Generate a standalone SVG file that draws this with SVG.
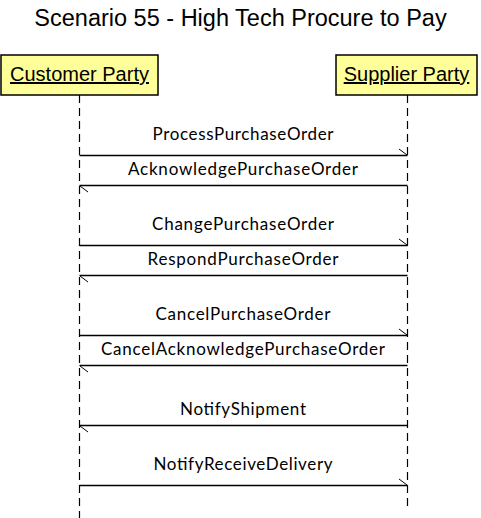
<svg xmlns="http://www.w3.org/2000/svg" width="481" height="518" viewBox="0 0 481 518">
<style>
.title{font-family:"Liberation Sans",Arial,sans-serif;font-size:23.5px;fill:#000;text-anchor:middle}
.box{fill:#ffff99;stroke:#000;stroke-width:1.5}
.party{font-family:"Liberation Sans",Arial,sans-serif;font-size:20px;fill:#000;text-anchor:middle;text-decoration:underline}
.life{stroke:#000;stroke-width:1.2;stroke-dasharray:8,5;fill:none}
.msg{stroke:#000;stroke-width:1.3;fill:none}
.barb{stroke:#000;stroke-width:1;fill:none}
.lbl{font-family:Lato,"Open Sans",sans-serif;font-size:17px;fill:#000;text-anchor:middle}
</style>
<rect width="481" height="518" fill="#fff"/>
<text class="title" x="240.5" y="26">Scenario 55 - High Tech Procure to Pay</text>
<g id="customer">
<rect class="box" x="1" y="55" width="157" height="40"/>
<text class="party" x="79.5" y="81">Customer Party</text>
<line class="life" x1="79.5" y1="95" x2="79.5" y2="518"/>
</g>
<g id="supplier">
<rect class="box" x="336" y="55" width="141" height="40"/>
<text class="party" x="406.5" y="81">Supplier Party</text>
<line class="life" x1="407.5" y1="95" x2="407.5" y2="510"/>
</g>
<g id="connectors">
<g id="m1"><line class="msg" x1="79.5" y1="155.5" x2="407.5" y2="155.5"/><line class="barb" x1="399" y1="149" x2="407" y2="155"/><text class="lbl" x="243" y="140" textLength="181">ProcessPurchaseOrder</text></g>
<g id="m2"><line class="msg" x1="407.5" y1="185.5" x2="79.5" y2="185.5"/><line class="barb" x1="80" y1="186" x2="88" y2="192"/><text class="lbl" x="243" y="175" textLength="230">AcknowledgePurchaseOrder</text></g>
<g id="m3"><line class="msg" x1="79.5" y1="245.5" x2="407.5" y2="245.5"/><line class="barb" x1="399" y1="239" x2="407" y2="245"/><text class="lbl" x="243" y="230" textLength="182">ChangePurchaseOrder</text></g>
<g id="m4"><line class="msg" x1="407.5" y1="275.5" x2="79.5" y2="275.5"/><line class="barb" x1="80" y1="276" x2="88" y2="282"/><text class="lbl" x="243" y="265" textLength="191">RespondPurchaseOrder</text></g>
<g id="m5"><line class="msg" x1="79.5" y1="335.5" x2="407.5" y2="335.5"/><line class="barb" x1="399" y1="329" x2="407" y2="335"/><text class="lbl" x="243" y="320" textLength="175">CancelPurchaseOrder</text></g>
<g id="m6"><line class="msg" x1="407.5" y1="365.5" x2="79.5" y2="365.5"/><line class="barb" x1="80" y1="366" x2="88" y2="372"/><text class="lbl" x="243" y="355" textLength="284">CancelAcknowledgePurchaseOrder</text></g>
<g id="m7"><line class="msg" x1="407.5" y1="425.5" x2="79.5" y2="425.5"/><line class="barb" x1="80" y1="426" x2="88" y2="432"/><text class="lbl" x="243" y="415" textLength="126">NotifyShipment</text></g>
<g id="m8"><line class="msg" x1="79.5" y1="485.5" x2="407.5" y2="485.5"/><line class="barb" x1="399" y1="479" x2="407" y2="485"/><text class="lbl" x="243" y="470" textLength="179">NotifyReceiveDelivery</text></g>
</g>
</svg>
